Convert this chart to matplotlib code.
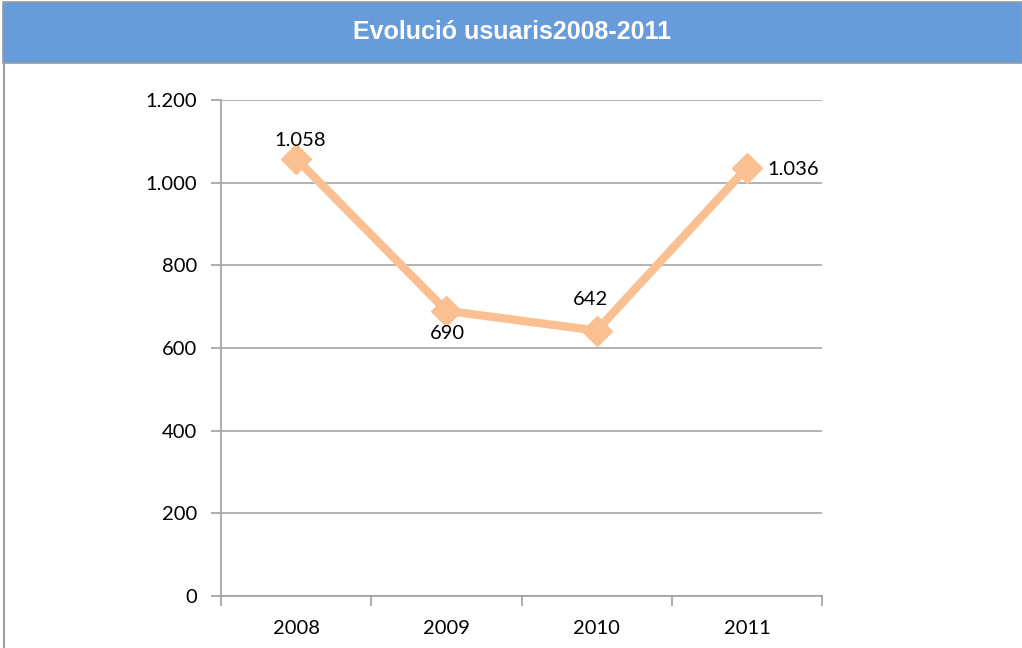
import matplotlib.pyplot as plt
from matplotlib.patches import Rectangle
from matplotlib.lines import Line2D
from matplotlib.ticker import FuncFormatter

# dades
anys = ['2008', '2009', '2010', '2011']
usuaris = [1058, 690, 642, 1036]
etiquetes = ['1.058', '690', '642', '1.036']
y_ticks = [0, 200, 400, 600, 800, 1000, 1200]

W, H = 1022, 648
fig = plt.figure(figsize=(W / 100, H / 100), dpi=100)
fig.patch.set_facecolor('white')

# barra del titol
fig.patches.append(Rectangle((3 / W, (H - 63) / H), 1 - 3 / W, 61 / H,
                             transform=fig.transFigure, facecolor='#679BDA',
                             edgecolor='#9A9A9A', linewidth=1.2, zorder=0))
fig.lines.append(Line2D([3.5 / W, 3.5 / W], [0, (H - 63) / H], transform=fig.transFigure,
                        color='#A0A0A0', linewidth=1.5))
fig.text(512 / W, (H - 32) / H, 'Evolució usuaris2008-2011', color='white',
         fontsize=18, fontweight='bold', family='Liberation Sans',
         ha='center', va='center')

ax = fig.add_axes([221 / W, (H - 596) / H, 601 / W, 496 / H])
x = list(range(len(anys)))
ax.plot(x, usuaris, color='#FAC092', linewidth=6, marker='D', markersize=15,
        markerfacecolor='#FAC092', markeredgecolor='#FAC092', solid_capstyle='round',
        zorder=3, clip_on=False)

# etiquetes de dades
offsets = [(4, 18, 'center'), (1, -23, 'center'), (-6, 31, 'center'), (20, -2, 'left')]
fs = 14.5
for xi, yi, txt, (dx, dy, ha) in zip(x, usuaris, etiquetes, offsets):
    ax.annotate(txt, (xi, yi), xytext=(dx, dy), textcoords='offset pixels',
                ha=ha, va='center', fontsize=fs, family='Lato', color='black', zorder=4)

ax.set_xlim(-0.5, 3.5)
ax.set_ylim(0, 1200)
ax.set_yticks(y_ticks)
ax.yaxis.set_major_formatter(FuncFormatter(lambda v, p: f'{int(v):,}'.replace(',', '.')))
ax.set_xticks(x)
ax.set_xticklabels(anys)
ax.set_xticks([-0.5, 0.5, 1.5, 2.5, 3.5], minor=True)
ax.tick_params(axis='x', which='major', length=0, pad=17, labelsize=fs)
ax.tick_params(axis='x', which='minor', length=7, color='#A0A0A0', width=1.2)
ax.tick_params(axis='y', length=7, color='#A0A0A0', width=1.2, pad=10, labelsize=fs)
for lab in ax.get_xticklabels() + ax.get_yticklabels():
    lab.set_family('Lato')

ax.grid(axis='y', color='#A6A6A6', linewidth=1.2)
ax.set_axisbelow(True)
for s in ['top', 'right']:
    ax.spines[s].set_visible(False)
for s in ['left', 'bottom']:
    ax.spines[s].set_color('#A0A0A0')
    ax.spines[s].set_linewidth(1.2)

fig.savefig('out.png', dpi=100)
